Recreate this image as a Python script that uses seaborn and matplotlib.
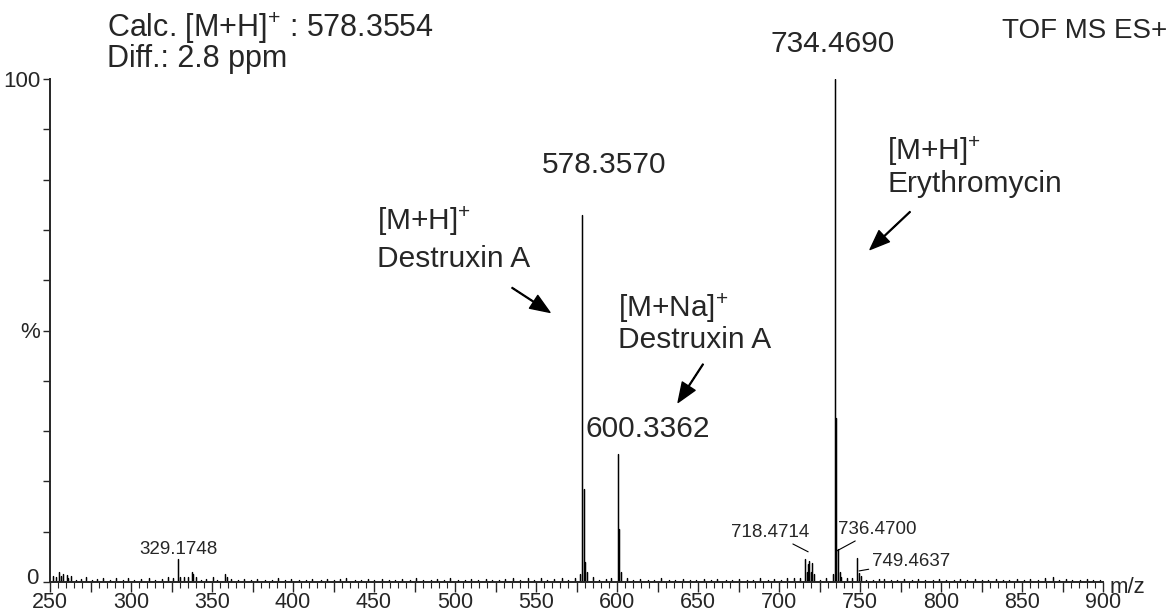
import numpy as np
import pandas as pd
import matplotlib.pyplot as plt
import matplotlib.transforms as mtransforms
import seaborn as sns
from matplotlib.ticker import MultipleLocator

# Main peaks (m/z, relative intensity %)
peak_mz = [255.7, 258.0, 260.5, 263.0, 329.17, 330.2, 337.5, 338.5, 340.0, 350.5,
           358.0, 359.0, 577.3, 578.357, 579.36, 580.36, 581.3, 600.336, 601.34,
           602.3, 716.1, 717.0, 717.9, 718.47, 719.5, 720.4, 721.5, 733.5, 734.469,
           735.47, 736.47, 737.5, 738.4, 748.4, 749.46, 750.4, 765.0, 869.0]
peak_int = [2.0, 1.5, 1.3, 1.2, 4.5, 1.0, 2.0, 1.6, 1.0, 1.0,
            1.5, 1.0, 1.5, 73.0, 18.5, 4.0, 2.0, 25.4, 10.5,
            2.0, 4.6, 2.0, 3.5, 4.2, 2.0, 3.8, 1.5, 1.5, 100.0,
            32.7, 6.5, 2.0, 1.0, 4.8, 1.8, 1.2, 0.6, 1.0]

# Baseline noise sticks
noise_mz = [252, 254, 257, 261, 266, 269, 272, 276, 279, 283, 287, 291, 295, 298,
            302, 306, 311, 315, 319, 323, 326, 333, 335, 343, 346, 353, 362, 366,
            370, 374, 378, 383, 387, 391, 395, 399, 404, 408, 412, 417, 421, 425,
            429, 433, 438, 442, 446, 450, 455, 459, 463, 467, 472, 476, 480, 485,
            489, 493, 497, 502, 506, 510, 514, 519, 523, 527, 531, 536, 540, 545,
            549, 553, 557, 561, 566, 570, 574, 585, 589, 593, 596, 606, 610, 614,
            619, 623, 627, 632, 636, 641, 645, 649, 654, 658, 662, 667, 671, 675,
            680, 684, 688, 693, 697, 701, 705, 709, 713, 725, 729, 742, 745, 754,
            758, 762, 769, 773, 777, 782, 786, 790, 795, 799, 803, 808, 812, 816,
            821, 825, 829, 834, 838, 842, 847, 851, 855, 860, 864, 873, 877, 881,
            886, 890, 894, 898]
noise_int = [1.2, 0.9, 1.1, 0.8, 0.4, 0.6, 0.9, 0.3, 0.6, 0.8, 0.3, 0.7, 0.4, 0.8,
             0.3, 0.6, 0.8, 0.4, 0.6, 0.9, 0.8, 1.0, 0.9, 0.3, 0.6, 0.4, 0.6, 0.3,
             0.6, 0.3, 0.6, 0.4, 0.3, 0.7, 0.3, 0.6, 0.3, 0.4, 0.5, 0.3, 0.5, 0.3,
             0.5, 0.7, 0.3, 0.4, 0.5, 0.3, 0.5, 0.4, 0.3, 0.6, 0.3, 0.7, 0.3, 0.4,
             0.5, 0.3, 0.7, 0.3, 0.4, 0.5, 0.3, 0.5, 0.4, 0.3, 0.6, 0.7, 0.3, 0.8,
             0.4, 0.7, 0.3, 0.5, 0.7, 0.3, 0.8, 0.9, 0.4, 0.6, 0.8, 0.7, 0.3, 0.5,
             0.4, 0.3, 0.7, 0.4, 0.3, 0.6, 0.3, 0.4, 0.5, 0.3, 0.5, 0.4, 0.3, 0.6,
             0.3, 0.4, 0.7, 0.3, 0.5, 0.4, 0.7, 0.8, 0.7, 0.4, 0.7, 0.8, 0.7, 0.4,
             0.3, 0.6, 0.3, 0.4, 0.5, 0.3, 0.5, 0.4, 0.3, 0.6, 0.3, 0.4, 0.5, 0.3,
             0.5, 0.4, 0.3, 0.6, 0.3, 0.4, 0.5, 0.3, 0.5, 0.4, 0.8, 0.3, 0.5, 0.4,
             0.3, 0.5, 0.3, 0.4]

sns.set_style("ticks")
plt.rcParams['font.family'] = ['Liberation Sans', 'DejaVu Sans']
plt.rcParams['mathtext.default'] = 'regular'

# build a stick profile from the peak lists
mz_all = list(peak_mz) + list(noise_mz)
it_all = list(peak_int) + list(noise_int)
order = np.argsort(mz_all)
xs, ys = [], []
for i in order:
    xs += [mz_all[i], mz_all[i], mz_all[i]]
    ys += [0, it_all[i], 0]
df = pd.DataFrame({"mz": xs, "intensity": ys})

fig = plt.figure(figsize=(11.75, 6.14), dpi=100)
ax = fig.add_axes([50 / 1175, 32 / 614, 1053 / 1175, 503 / 614])
sns.lineplot(data=df, x="mz", y="intensity", sort=False, estimator=None,
             color="black", linewidth=0.9, ax=ax)

ax.set_xlim(250, 900)
ax.set_ylim(0, 100)
sns.despine(ax=ax)
ax.set_xlabel("")
ax.set_ylabel("")

ax.xaxis.set_major_locator(MultipleLocator(25))
ax.xaxis.set_minor_locator(MultipleLocator(5))
ax.set_xticklabels([str(int(v)) if v % 50 == 0 else "" for v in ax.get_xticks()])
ax.set_xlim(250, 900)
ax.tick_params(axis="x", which="major", length=7, width=1, labelsize=15.5, pad=0.5)
ax.tick_params(axis="x", which="minor", length=4, width=0.8)
ax.set_yticks(np.arange(0, 101, 10))
ax.set_yticklabels(["0", "", "", "", "", "%", "", "", "", "", "100"])
ax.tick_params(axis="y", length=5, width=1, labelsize=16, pad=2)
for s in ["left", "bottom"]:
    ax.spines[s].set_linewidth(1.4)

# lift the "0" label a little so it clears the "250" below it
zero_lab = ax.get_yticklabels()[0]
zero_lab.set_transform(zero_lab.get_transform() +
                       mtransforms.ScaledTranslation(-1 / 72, 4 / 72, fig.dpi_scale_trans))

big = 21.5
sm = 13.5
ax.text(285.2, 108.4, "Calc. [M+H]$^{+}$ : 578.3554", fontsize=22, va="baseline", clip_on=False)
ax.text(285.2, 102.4, "Diff.: 2.8 ppm", fontsize=22, va="baseline", clip_on=False)
ax.text(733.3, 105.3, "734.4690", fontsize=big, ha="center", va="baseline", clip_on=False)
ax.text(837.7, 108.1, "TOF MS ES+", fontsize=20, va="baseline", clip_on=False)
ax.text(592, 81.3, "578.3570", fontsize=big, ha="center", va="baseline")
ax.text(451.8, 70.0, "[M+H]$^{+}$", fontsize=big, va="baseline")
ax.text(451.8, 62.7, "Destruxin A", fontsize=big, va="baseline")
ax.text(600.6, 52.6, "[M+Na]$^{+}$", fontsize=big, va="baseline")
ax.text(600.6, 46.6, "Destruxin A", fontsize=big, va="baseline")
ax.text(619.1, 28.8, "600.3362", fontsize=big, ha="center", va="baseline")
ax.text(766.7, 83.9, "[M+H]$^{+}$", fontsize=big, va="baseline")
ax.text(766.7, 77.6, "Erythromycin", fontsize=big, va="baseline")
ax.text(329.6, 6.5, "329.1748", fontsize=sm, ha="center", va="center")
ax.text(904.3, -1.0, "m/z", fontsize=16, ha="left", va="center", clip_on=False)

arrow = dict(facecolor="black", edgecolor="black", width=0.6, headwidth=11,
             headlength=14, shrink=0)
ax.annotate("", xy=(558.6, 53.6), xytext=(535.2, 58.5), arrowprops=arrow)
ax.annotate("", xy=(637.7, 35.7), xytext=(653.1, 43.3), arrowprops=arrow)
ax.annotate("", xy=(756.2, 66.1), xytext=(780.9, 73.6), arrowprops=arrow)

# small peak labels with leader lines
lead = dict(arrowstyle="-", color="black", lw=0.8, shrinkA=0, shrinkB=0)
ax.annotate("718.4714", xy=(718.0, 6.0), xytext=(694.4, 9.9), fontsize=sm,
            ha="center", va="center", arrowprops=lead)
ax.annotate("736.4700", xy=(735.8, 6.2), xytext=(760.5, 10.5), fontsize=sm,
            ha="center", va="center", arrowprops=lead)
ax.annotate("749.4637", xy=(749.4, 2.2), xytext=(757.4, 4.0), fontsize=sm,
            ha="left", va="center", arrowprops=lead)

fig.savefig("out.png", dpi=100)
